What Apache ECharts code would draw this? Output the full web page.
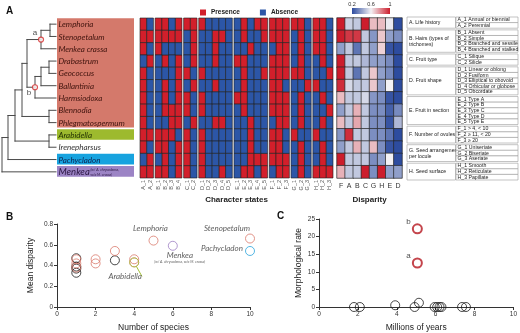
<!DOCTYPE html>
<html>
<head>
<meta charset="utf-8">
<title>Character disparity</title>
<script src="https://cdn.jsdelivr.net/npm/echarts@6.0.0/dist/echarts.min.js"></script>
<style>
  html, body { margin: 0; padding: 0; background: #fff; }
  #chart { width: 520px; height: 333px; }
</style>
</head>
<body>
<div id="chart"></div>
<script>
// ---- panel A: taxa (tree order) ----
const taxa = ['Lemphoria', 'Stenopetalum', 'Menkea crassa', 'Drabastrum', 'Geococcus', 'Ballantinia',
  'Harmsiodoxa', 'Blennodia', 'Phlegmatospermum', 'Arabidella', 'Irenepharsus', 'Pachycladon', 'Menkea'];
const menkeaNote = '(w/ A. chrysodema,\nw/o M. crassa)';

// cladogram, internal nodes bottom-up. depth from root, kids: L<row> or N<node>
const nodeDepth = [48, 39, 47, 39, 33, 25, 47, 20, 47, 13, 6, 0];
const nodeKids = [['L0', 'L1'], ['N0', 'L2'], ['L3', 'L4'], ['N2', 'L5'], ['N3', 'L6'], ['N1', 'N4'],
  ['L7', 'L8'], ['N5', 'N6'], ['L9', 'L10'], ['N7', 'N8'], ['N9', 'L11'], ['N10', 'L12']];
const tipDepth = 54;
const markedNodes = [1, 4];
const markedNames = ['a', 'b'];
const blockRows = [[0, 8], [9, 9], [11, 11], [12, 12]]; // coloured label blocks

// ---- character states, 1 = presence, 0 = absence ----
const charGroups = ['A', 'B', 'C', 'D', 'E', 'F', 'G', 'H'];
const charGroupSize = [2, 4, 2, 5, 5, 3, 3, 3];
const charMatrix = [
  '10' + '1101' + '11' + '10000' + '01011' + '111' + '110' + '110',
  '11' + '1111' + '01' + '00110' + '01001' + '111' + '010' + '110',
  '10' + '1000' + '01' + '00100' + '00100' + '011' + '010' + '110',
  '01' + '0101' + '01' + '00100' + '11000' + '111' + '010' + '010',
  '10' + '0001' + '10' + '10000' + '01001' + '111' + '110' + '001',
  '10' + '0101' + '01' + '00100' + '01000' + '110' + '001' + '100',
  '10' + '0101' + '10' + '10000' + '11000' + '111' + '010' + '010',
  '10' + '0111' + '10' + '10000' + '01000' + '111' + '010' + '001',
  '10' + '0011' + '01' + '00110' + '00100' + '011' + '010' + '010',
  '11' + '1110' + '10' + '10000' + '00100' + '110' + '100' + '100',
  '10' + '1101' + '10' + '10000' + '00100' + '110' + '010' + '010',
  '01' + '0101' + '10' + '10000' + '00111' + '111' + '010' + '010',
  '11' + '1101' + '10' + '10010' + '01101' + '011' + '010' + '111'
];

// ---- disparity per character ----
const disparityCols = ['F', 'A', 'B', 'C', 'G', 'H', 'E', 'D'];
const disparity = [
  [1.0, 0.52, 0.5, 1.0, 0.7, 0.7, 0.58, 0.2],
  [1.0, 0.95, 0.95, 0.5, 0.38, 0.68, 0.4, 0.36],
  [0.4, 0.5, 0.3, 0.5, 0.4, 0.66, 0.22, 0.2],
  [1.0, 0.5, 0.5, 0.46, 0.4, 0.4, 0.35, 0.2],
  [1.0, 0.5, 0.3, 0.5, 0.68, 0.4, 0.35, 0.2],
  [0.97, 0.54, 0.5, 0.5, 0.68, 0.4, 0.6, 0.2],
  [0.7, 0.5, 0.5, 0.54, 0.38, 0.36, 0.22, 0.2],
  [0.4, 0.5, 0.72, 0.5, 0.36, 0.36, 0.25, 0.35],
  [0.7, 0.5, 0.74, 0.5, 0.36, 0.36, 0.22, 0.46],
  [0.38, 0.97, 0.5, 0.5, 0.36, 0.36, 0.3, 0.2],
  [0.4, 0.5, 0.72, 0.5, 0.7, 0.36, 0.22, 0.2],
  [1.0, 0.5, 0.5, 0.5, 0.36, 0.4, 0.6, 0.2],
  [0.72, 0.5, 0.5, 1.0, 0.36, 1.0, 0.4, 0.4]
];
const disparityTicks = [0.2, 0.6, 1];

// ---- character table ----
const charNames = ['A. Life history', 'B. Hairs (types of\ntrichomes)', 'C. Fruit type', 'D. Fruit shape',
  'E. Fruit in section', 'F. Number of ovules', 'G. Seed arrangement\nper locule', 'H. Seed surface'];
const stateNames = ['Annual or biennial', 'Perennial', 'Absent', 'Simple', 'Branched and sessile',
  'Branched and stalked', 'Silique', 'Silicle', 'Linear or oblong', 'Fusiform', 'Elliptical to obovoid',
  'Orbicular or globose', 'Obcordate', 'Type A', 'Type B', 'Type C', 'Type D', 'Type E',
  '> 4, < 10', '≥ 11, < 20', '≥ 20', 'Uniseriate', 'Biseriate', 'Aseriate', 'Smooth', 'Reticulate', 'Papillate'];

// ---- panel B: species number vs mean disparity ----
const bOtherSpecies = [1, 1, 1, 1, 3];
const bOtherDisp = [0.47, 0.39, 0.37, 0.33, 0.45];
const bAusSpecies = [1, 1, 1, 2, 2, 3, 4, 4, 5, 10];
const bAusDisp = [0.46, 0.42, 0.38, 0.46, 0.42, 0.54, 0.46, 0.43, 0.64, 0.66];
const bAusNames = ['', '', '', '', '', '', '', '', 'Lemphoria', 'Stenopetalum'];
const bArabidella = [4, 0.43];
const bMenkea = [6, 0.59];
const bPachycladon = [10, 0.54];

// ---- panel C: age vs morphological rate ----
const cAge = [1.8, 2.1, 3.92, 4.92, 5.14, 5.95, 6.08, 6.2, 6.3, 7.36, 7.56];
const cRate = [0, 0, 0.5, 0, 1.2, 0, 0, 0, 0, 0, 0];
const cNodeAge = [5.06, 5.06];
const cNodeRate = [12.5, 22.2];
const cNodeNames = ['a', 'b'];

// ---- styles ----
const RED = '#d21f2b', BLUE = '#2c56a7';
const blockColors = ['#d4796b', '#9dba2e', '#17a3df', '#9c84c5'];
const blockText = ['#3f130d', '#1f2d00', '#0b2450', '#2b1643'];
const dispColors = ['#2d4c9f', '#f3f1f4', '#cc1d2c'];
const GAP = 0.25, TGAP = 0.3;
const SANS = 'Liberation Sans';

// derived layout
const nodeY = [];
const kidPos = k => k[0] === 'L' ? [tipDepth, +k.slice(1)] : [nodeDepth[+k.slice(1)], nodeY[+k.slice(1)]];
nodeKids.forEach((kids, i) => {
  const ys = kids.map(k => kidPos(k)[1]);
  nodeY[i] = (Math.min(...ys) + Math.max(...ys)) / 2;
});

const stateIds = [], colPos = [];
charGroupSize.forEach((n, g) => {
  for (let k = 1; k <= n; k++) {
    colPos.push(stateIds.length + g * GAP);
    stateIds.push(charGroups[g] + '_' + k);
  }
});
const colMax = stateIds.length + (charGroups.length - 1) * GAP;
const presence = [], absence = [];
charMatrix.forEach((s, r) => s.split('').forEach((c, i) => (c === '1' ? presence : absence).push([colPos[i], r])));

const tableRow = [], groupSpan = [];
let tp = 0;
charGroupSize.forEach(n => {
  const s = tp;
  for (let k = 0; k < n; k++) { tableRow.push(tp); tp += 1; }
  groupSpan.push([s, tp]);
  tp += TGAP;
});
const tableMax = tp - TGAP;

function rectBetween(api, a, b) {
  const p0 = api.coord(a), p1 = api.coord(b);
  return { x: Math.min(p0[0], p1[0]), y: Math.min(p0[1], p1[1]),
    width: Math.abs(p1[0] - p0[0]), height: Math.abs(p1[1] - p0[1]) };
}

function renderCell(params, api) {
  const x = api.value(0), r = api.value(1);
  return { type: 'rect', shape: rectBetween(api, [x, r - 0.5], [x + 1, r + 0.5]),
    style: { fill: api.visual('color'), stroke: '#1c1c1c', lineWidth: 0.6 } };
}

const branch = { stroke: '#4a4a4a', lineWidth: 1, lineCap: 'square' };
function renderNode(params, api) {
  const i = params.dataIndex;
  const x = api.value(0);
  const kids = nodeKids[i].map(kidPos);
  const ys = kids.map(k => k[1]);
  const a = api.coord([x, Math.min(...ys)]), b = api.coord([x, Math.max(...ys)]);
  const children = [{ type: 'line', shape: { x1: a[0], y1: a[1], x2: b[0], y2: b[1] }, style: branch }];
  kids.forEach(k => {
    const s = api.coord([x, k[1]]), e = api.coord(k);
    children.push({ type: 'line', shape: { x1: s[0], y1: s[1], x2: e[0], y2: e[1] }, style: branch });
  });
  return { type: 'group', children };
}

function renderBlock(params, api) {
  const r0 = api.value(0), r1 = api.value(1), i = api.value(2);
  return { type: 'rect', shape: rectBetween(api, [tipDepth + 1, r0 - 0.47], [132, r1 + 0.4]),
    style: { fill: blockColors[i] } };
}

function renderTaxon(params, api) {
  const r = api.value(1);
  const pt = api.coord([api.value(0), r]);
  const blk = blockRows.findIndex(b => r >= b[0] && r <= b[1]);
  const name = taxa[r];
  const big = name === 'Menkea';
  const children = [{ type: 'text', x: pt[0], y: pt[1] + 0.5,
    style: { text: name, font: 'italic ' + (big ? 9.5 : 8) + 'px Lato', fill: blk < 0 ? '#333' : blockText[blk],
      verticalAlign: 'middle', align: 'left' } }];
  if (big) {
    children.push({ type: 'text', x: pt[0] + 32, y: pt[1] + 0.5,
      style: { text: menkeaNote, font: 'italic 3.6px Lato', fill: blockText[blk], verticalAlign: 'middle',
        align: 'left', lineHeight: 4.5 } });
  }
  return { type: 'group', children };
}

function renderStateLabel(params, api) {
  const pt = api.coord([api.value(0), api.value(1)]);
  return { type: 'text', x: pt[0], y: pt[1] + 2, rotation: Math.PI / 2,
    style: { text: stateIds[params.dataIndex], font: '5.5px ' + SANS, fill: '#555', align: 'right', verticalAlign: 'middle' } };
}

function renderTableGroup(params, api) {
  const s = api.value(0), e = api.value(1), g = params.dataIndex;
  const box = rectBetween(api, [0, s], [48.5, e]);
  const mid = api.coord([2, (s + e) / 2]);
  return { type: 'group', children: [
    { type: 'rect', shape: box, style: { fill: '#fff', stroke: '#9a9a9a', lineWidth: 0.6 } },
    { type: 'text', x: mid[0], y: mid[1], style: { text: charNames[g], font: '5.2px ' + SANS, fill: '#222',
      verticalAlign: 'middle', align: 'left', lineHeight: 6 } }
  ] };
}

function renderTableRow(params, api) {
  const s = api.value(0), i = params.dataIndex;
  const box = rectBetween(api, [49, s], [111, s + 1]);
  const mid = api.coord([50.5, s + 0.5]);
  return { type: 'group', children: [
    { type: 'rect', shape: box, style: { fill: '#fff', stroke: '#9a9a9a', lineWidth: 0.6 } },
    { type: 'text', x: mid[0], y: mid[1], style: { text: stateIds[i] + ' ' + stateNames[i], font: '5.2px ' + SANS,
      fill: '#222', verticalAlign: 'middle', align: 'left' } }
  ] };
}

const taxonLabel = { fontFamily: 'Lato', fontStyle: 'italic', fontSize: 8, color: '#333' };
const bLabelPlace = {
  Lemphoria: [-3, -12],
  Stenopetalum: [-23, -10],
  Pachycladon: [-28, -3],
  Menkea: [7, 12],
  Arabidella: [-9, 14]
};
function bPoint(x, y, name) {
  if (!name) return [x, y];
  return {
    value: [x, y], name,
    label: {
      show: true, position: 'inside', offset: bLabelPlace[name], ...taxonLabel,
      formatter: name === 'Menkea' ? '{n|Menkea}\n{s|(w/ A. chrysodema, w/o M. crassa)}' : '{b}',
      rich: { n: { ...taxonLabel, lineHeight: 8 }, s: { ...taxonLabel, fontSize: 3.6, lineHeight: 5 } }
    }
  };
}
function ring(color, width) {
  return { color: 'rgba(0,0,0,0)', borderColor: color, borderWidth: width || 1 };
}

const tickText = { fontSize: 6.5, color: '#333', fontFamily: SANS };
const axisName = { fontSize: 8.5, color: '#222', fontFamily: SANS };
const hiddenAxis = (grid, min, max, inverse) => ({ gridIndex: grid, type: 'value', min, max, inverse: !!inverse, show: false });
function plotAxis(grid, max, step, name, gap) {
  return {
    gridIndex: grid, type: 'value', min: 0, max, interval: step,
    axisLine: { show: true, onZero: false, lineStyle: { color: '#333', width: 1 } },
    axisTick: { show: true, length: 3, lineStyle: { color: '#333' } },
    axisLabel: { ...tickText, margin: 4 },
    splitLine: { show: false },
    name, nameLocation: 'middle', nameGap: gap, nameTextStyle: axisName
  };
}

const heatData = [];
disparity.forEach((row, r) => row.forEach((v, c) => heatData.push([c, r, v])));

const series = [
  { type: 'custom', name: 'blocks', xAxisIndex: 0, yAxisIndex: 0, renderItem: renderBlock,
    data: blockRows.map((b, i) => [b[0], b[1], i]), silent: true },
  { type: 'custom', name: 'tree', xAxisIndex: 0, yAxisIndex: 0, renderItem: renderNode,
    data: nodeDepth.map((d, i) => [d, nodeY[i]]), silent: true },
  { type: 'custom', name: 'taxa', xAxisIndex: 0, yAxisIndex: 0, renderItem: renderTaxon,
    data: taxa.map((t, r) => [tipDepth + 2.5, r]), silent: true },
  { type: 'scatter', name: 'nodes', xAxisIndex: 0, yAxisIndex: 0, symbolSize: 5,
    itemStyle: { color: '#fff', borderColor: '#d42a2a', borderWidth: 1.2 },
    data: markedNodes.map((n, k) => ({ value: [nodeDepth[n], nodeY[n]], name: markedNames[k],
      label: { show: true, position: 'inside', offset: k ? [-6, 6] : [-6, -7], formatter: '{b}',
        fontSize: 8, color: '#222', fontFamily: SANS } })), z: 5 },
  { type: 'custom', name: 'Presence', xAxisIndex: 1, yAxisIndex: 1, renderItem: renderCell,
    itemStyle: { color: RED }, data: presence },
  { type: 'custom', name: 'Absence', xAxisIndex: 1, yAxisIndex: 1, renderItem: renderCell,
    itemStyle: { color: BLUE }, data: absence },
  { type: 'custom', name: 'stateLabels', xAxisIndex: 1, yAxisIndex: 1, renderItem: renderStateLabel,
    data: colPos.map(p => [p + 0.5, 12.5]), silent: true },
  { type: 'heatmap', name: 'disparity', xAxisIndex: 2, yAxisIndex: 2, data: heatData,
    itemStyle: { borderColor: '#262626', borderWidth: 0.7 } },
  { type: 'custom', name: 'tableGroups', xAxisIndex: 3, yAxisIndex: 3, renderItem: renderTableGroup,
    data: groupSpan, silent: true },
  { type: 'custom', name: 'tableRows', xAxisIndex: 3, yAxisIndex: 3, renderItem: renderTableRow,
    data: tableRow.map(p => [p, p + 1]), silent: true },
  // panel B
  { type: 'scatter', name: 'other', xAxisIndex: 4, yAxisIndex: 4, symbolSize: 9, itemStyle: ring('#1a1a1a'),
    data: bOtherSpecies.map((x, i) => [x, bOtherDisp[i]]) },
  { type: 'scatter', name: 'australian', xAxisIndex: 4, yAxisIndex: 4, symbolSize: 9, itemStyle: ring('#d9796b'),
    data: bAusSpecies.map((x, i) => bPoint(x, bAusDisp[i], bAusNames[i])) },
  { type: 'scatter', name: 'arabidella', xAxisIndex: 4, yAxisIndex: 4, symbolSize: 9, itemStyle: ring('#a2c036'),
    labelLine: { show: true, length2: 0, lineStyle: { color: '#a2c036', width: 1 } },
    data: [bPoint(bArabidella[0], bArabidella[1], 'Arabidella')] },
  { type: 'scatter', name: 'menkea', xAxisIndex: 4, yAxisIndex: 4, symbolSize: 9, itemStyle: ring('#9d7fc3'),
    data: [bPoint(bMenkea[0], bMenkea[1], 'Menkea')] },
  { type: 'scatter', name: 'pachycladon', xAxisIndex: 4, yAxisIndex: 4, symbolSize: 9, itemStyle: ring('#2aa4dc'),
    data: [bPoint(bPachycladon[0], bPachycladon[1], 'Pachycladon')] },
  // panel C
  { type: 'scatter', name: 'rates', xAxisIndex: 5, yAxisIndex: 5, symbolSize: 9, itemStyle: ring('#1a1a1a'),
    data: cAge.map((a, i) => [a, cRate[i]]) },
  { type: 'scatter', name: 'shifts', xAxisIndex: 5, yAxisIndex: 5, symbolSize: 9, itemStyle: ring('#b5161f', 2),
    data: cNodeAge.map((a, i) => ({ value: [a, cNodeRate[i]], name: cNodeNames[i] })),
    label: { show: true, position: 'inside', offset: [-9, -7], formatter: '{b}', fontSize: 8, color: '#222', fontFamily: SANS } }
];

const cbLeft = 352, cbWidth = 38;
const graphic = [
  { type: 'text', left: 6, top: 6, style: { text: 'A', font: 'bold 10px ' + SANS, fill: '#111' } },
  { type: 'text', left: 6, top: 212, style: { text: 'B', font: 'bold 10px ' + SANS, fill: '#111' } },
  { type: 'text', left: 277, top: 211, style: { text: 'C', font: 'bold 10px ' + SANS, fill: '#111' } },
  { type: 'rect', shape: { x: cbLeft, y: 8, width: cbWidth, height: 6 },
    style: { fill: new echarts.graphic.LinearGradient(0, 0, 1, 0,
      dispColors.map((c, i) => ({ offset: i / (dispColors.length - 1), color: c }))) } }
].concat(disparityTicks.map(v => ({
  type: 'text', x: cbLeft + (v - 0.2) / 0.8 * cbWidth, y: 4,
  style: { text: String(v), font: '5.5px ' + SANS, fill: '#333', align: 'center', verticalAlign: 'middle' }
})));

const chart = echarts.init(document.getElementById('chart'));
chart.setOption({
  animation: false,
  textStyle: { fontFamily: SANS },
  legend: {
    data: ['Presence', 'Absence'], left: 195, top: 4, icon: 'rect', itemWidth: 6, itemHeight: 6, itemGap: 20,
    selectedMode: false, textStyle: { fontSize: 6.5, fontWeight: 'bold', color: '#222', fontFamily: SANS }
  },
  visualMap: { show: false, seriesIndex: 7, min: 0.2, max: 1, inRange: { color: dispColors } },
  grid: [
    { left: 2, top: 18, width: 132, height: 160 },
    { left: 140, top: 18, width: 193, height: 160 },
    { left: 337, top: 18, width: 65, height: 160 },
    { left: 407, top: 17, width: 111, height: 163 },
    { left: 57, top: 224, width: 193, height: 84 },
    { left: 319, top: 219, width: 196, height: 89 }
  ],
  xAxis: [
    hiddenAxis(0, 0, 132),
    { gridIndex: 1, type: 'value', min: 0, max: colMax, axisLine: { show: false }, axisTick: { show: false },
      axisLabel: { show: false }, splitLine: { show: false }, name: 'Character states', nameLocation: 'middle',
      nameGap: 18, nameTextStyle: { fontSize: 8, fontWeight: 'bold', color: '#222' } },
    { gridIndex: 2, type: 'category', data: disparityCols, axisLine: { show: false }, axisTick: { show: false },
      axisLabel: { fontSize: 7, color: '#333', margin: 5 }, name: 'Disparity', nameLocation: 'middle',
      nameGap: 18, nameTextStyle: { fontSize: 8, fontWeight: 'bold', color: '#222' } },
    hiddenAxis(3, 0, 111),
    plotAxis(4, 10, 2, 'Number of species', 16),
    plotAxis(5, 10, 2, 'Millions of years', 16)
  ],
  yAxis: [
    hiddenAxis(0, -0.5, 12.5, true),
    hiddenAxis(1, -0.5, 12.5, true),
    { gridIndex: 2, type: 'category', data: taxa, inverse: true, show: false },
    hiddenAxis(3, 0, tableMax, true),
    plotAxis(4, 0.8, 0.2, 'Mean disparity', 22),
    plotAxis(5, 25, 5, 'Morphological rate', 16)
  ],
  graphic,
  series
});
</script>
</body>
</html>
